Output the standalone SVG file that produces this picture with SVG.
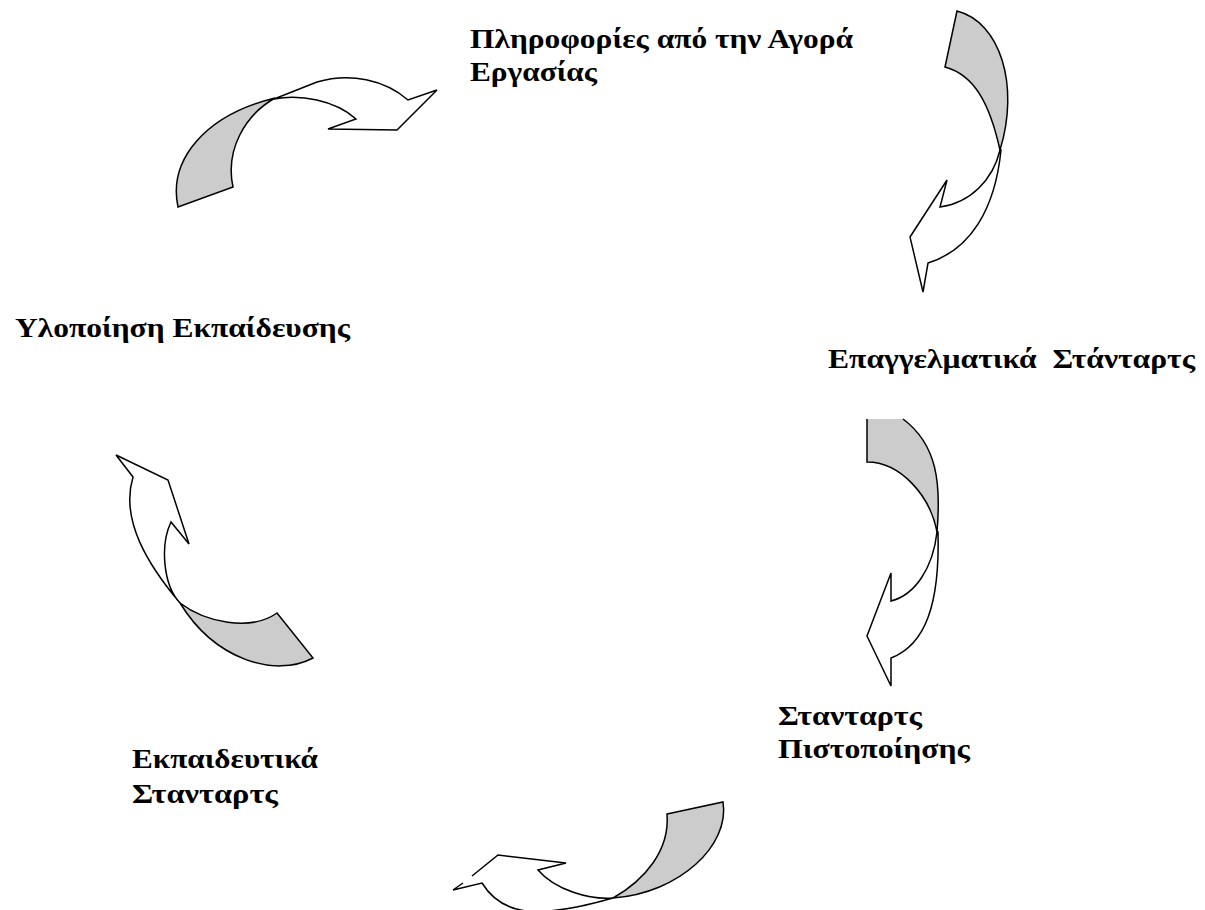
<svg xmlns="http://www.w3.org/2000/svg" width="1205" height="910" viewBox="0 0 1205 910">
  <style>
    .lbl { font-family: "Liberation Serif", "Times New Roman", serif; font-weight: bold; font-size: 28px; fill: #000; white-space: pre; }
    .back { fill: #cccccc; stroke: #000; stroke-width: 1.5; stroke-linejoin: miter; }
    .front { fill: #ffffff; stroke: #000; stroke-width: 1.5; stroke-linejoin: miter; }
    .fillonly { fill: #cccccc; stroke: none; }
    .line { fill: none; stroke: #000; stroke-width: 1.5; }
  </style>
  <rect width="1205" height="910" fill="#ffffff"/>

  <!-- labels -->
  <g id="node-labour-market">
    <text class="lbl" x="470" y="48" textLength="383" lengthAdjust="spacingAndGlyphs">Πληροφορίες από την Αγορά</text>
    <text class="lbl" x="470" y="81" textLength="127" lengthAdjust="spacingAndGlyphs">Εργασίας</text>
  </g>
  <g id="node-occupational-standards">
    <text class="lbl" x="828" y="368" textLength="367" lengthAdjust="spacingAndGlyphs">Επαγγελματικά  Στάνταρτς</text>
  </g>
  <g id="node-certification-standards">
    <text class="lbl" x="778" y="725" textLength="144" lengthAdjust="spacingAndGlyphs">Στανταρτς</text>
    <text class="lbl" x="778" y="758" textLength="192" lengthAdjust="spacingAndGlyphs">Πιστοποίησης</text>
  </g>
  <g id="node-training-standards">
    <text class="lbl" x="132" y="768" textLength="186" lengthAdjust="spacingAndGlyphs">Εκπαιδευτικά</text>
    <text class="lbl" x="132" y="803" textLength="146" lengthAdjust="spacingAndGlyphs">Στανταρτς</text>
  </g>
  <g id="node-training-delivery">
    <text class="lbl" x="15" y="337" textLength="335" lengthAdjust="spacingAndGlyphs">Υλοποίηση Εκπαίδευσης</text>
  </g>

  <!-- curved arrows linking the stages -->
  <g id="connectors">
    <!-- top left: delivery -> labour market -->
    <g id="arrow-1">
      <path class="front" d="M274,99 L317,82 C350,72 385,80 408,100 L437,90 L397,130 L328,129 L356,119 C335,100 300,94 274,99 Z"/>
      <path class="back" d="M178,207 C168,160 205,115 275,98 C245,115 225,150 233,187 Z"/>
    </g>
    <!-- top right: labour market -> occupational standards -->
    <g id="arrow-2">
      <path class="front" d="M1000,150 C993,180 970,203 940,207 L947,180 L910,237 L923,292 L928,263 C970,250 995,210 1001,150 Z"/>
      <path class="back" d="M957,11 C1000,22 1020,85 1000,150 C990,105 975,75 945,67 Z"/>
    </g>
    <!-- right: occupational -> certification standards -->
    <g id="arrow-3">
      <path class="front" d="M937,532 C933,568 915,595 891,601 L891,573 L867,636 L891,686 L891,658 C925,645 940,605 938,532 Z"/>
      <path class="fillonly" d="M867,419 L867,462 C900,462 930,495 937,532 C941,485 938,445 903,419 Z"/>
      <path class="line" d="M867,419 L867,462 C900,462 930,495 937,532 M903,419 C938,445 941,485 937,532"/>
    </g>
    <!-- bottom: certification -> training standards -->
    <g id="arrow-4">
      <path d="M613,898 C590,900 555,890 538,870 L566,863 L498,855 L453,890 L482,883 C500,912 530,922 613,898 Z" fill="#ffffff" stroke="none"/>
      <path class="line" d="M613,898 C590,900 555,890 538,870 L566,863 L498,855 L472,876 M463,883 L453,890 L482,883 C500,912 530,922 613,898"/>
      <path class="back" d="M667,814 L723,802 C730,845 680,893 613,898 C645,880 670,850 667,814 Z"/>
    </g>
    <!-- left: training standards -> delivery -->
    <g id="arrow-5">
      <path class="front" d="M180,603 C148,565 120,520 133,477 L116,455 L168,480 L189,544 L171,522 C160,545 163,585 180,603 Z"/>
      <path class="back" d="M180,603 C205,622 250,632 277,613 L313,658 C275,678 215,660 180,603 Z"/>
    </g>
  </g>
</svg>
